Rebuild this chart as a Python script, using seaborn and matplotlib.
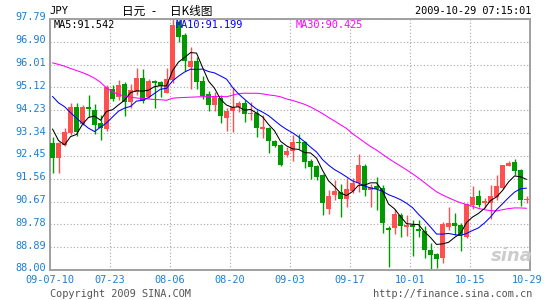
import numpy as np
import pandas as pd
import matplotlib
matplotlib.use("Agg")
import matplotlib.pyplot as plt
import matplotlib.transforms as mtransforms
import seaborn as sns

# ---------------- data ----------------
opens = [92.95, 92.36, 92.88, 93.34, 94.35, 93.68, 94.37, 94.24, 93.72, 93.49,
         95.05, 94.74, 95.26, 94.57, 94.96, 95.48, 94.76, 95.39, 95.35, 94.92,
         95.42, 97.68, 97.18, 95.93, 96.17, 95.39, 94.85, 94.42, 94.72, 93.93,
         94.22, 94.34, 94.53, 94.08, 94.14, 93.49, 93.53, 93.03, 92.88, 92.48,
         92.64, 93.00, 93.00, 92.26, 92.06, 91.71, 90.37, 90.92, 91.05, 90.77,
         91.10, 91.41, 92.06, 91.12, 91.28, 91.19, 89.62, 89.62, 90.14, 89.69,
         89.76, 89.58, 89.53, 88.78, 88.62, 88.46, 89.66, 89.85, 89.76, 89.30,
         90.54, 90.89, 90.60, 90.63, 90.84, 91.18, 92.06, 92.23, 91.90, 90.73]
highs = [93.17, 93.00, 93.54, 94.50, 94.50, 94.44, 94.83, 94.47, 94.05, 95.22,
         95.22, 95.41, 95.32, 95.25, 95.87, 95.83, 95.44, 95.41, 95.39, 95.87,
         97.79, 97.75, 97.26, 96.70, 96.30, 95.57, 95.00, 94.95, 94.83, 94.32,
         95.08, 94.60, 94.63, 94.57, 94.24, 94.05, 93.56, 93.07, 92.91, 92.80,
         93.27, 93.30, 93.05, 92.32, 92.10, 91.76, 91.12, 91.50, 91.36, 91.58,
         91.60, 92.52, 92.12, 91.37, 91.62, 91.32, 89.72, 90.38, 90.22, 90.16,
         89.95, 89.95, 89.72, 89.04, 88.66, 89.88, 90.44, 90.21, 89.82, 90.63,
         91.28, 91.12, 90.80, 91.32, 91.70, 92.10, 92.27, 92.32, 91.92, 90.89]
lows = [91.80, 91.80, 92.84, 93.27, 93.24, 93.64, 93.98, 93.30, 93.07, 93.43,
        94.58, 94.62, 94.00, 94.30, 94.83, 94.50, 94.70, 94.31, 94.76, 94.89,
        95.30, 96.90, 95.75, 95.05, 95.05, 94.66, 94.22, 94.20, 93.72, 93.41,
        93.40, 94.17, 93.79, 93.85, 93.20, 93.14, 92.55, 92.79, 92.06, 92.42,
        92.26, 92.70, 91.98, 91.56, 91.52, 90.15, 90.18, 90.73, 90.08, 90.47,
        91.00, 91.05, 90.89, 90.47, 90.33, 89.46, 88.10, 89.40, 89.30, 89.32,
        88.53, 89.30, 88.46, 88.00, 88.07, 88.26, 89.56, 89.37, 88.75, 89.24,
        90.37, 90.44, 90.41, 89.98, 90.73, 91.15, 92.06, 91.71, 90.50, 90.60]
closes = [92.37, 92.95, 93.38, 94.35, 93.40, 94.34, 94.28, 93.66, 93.53, 95.13,
          94.66, 95.22, 94.57, 95.02, 95.48, 94.60, 95.39, 95.28, 95.18, 95.45,
          97.55, 97.10, 96.15, 96.15, 95.35, 94.78, 94.42, 94.75, 93.99, 94.22,
          94.34, 94.53, 94.08, 94.14, 93.53, 93.59, 93.05, 92.84, 92.10, 92.64,
          93.00, 92.94, 92.22, 92.03, 91.63, 90.63, 90.89, 91.08, 90.77, 91.15,
          91.41, 92.10, 91.12, 91.22, 91.15, 89.82, 89.56, 90.18, 89.72, 89.76,
          89.69, 89.51, 88.78, 88.59, 88.42, 89.79, 89.82, 89.72, 89.37, 90.57,
          90.84, 90.54, 90.70, 90.89, 91.28, 92.10, 92.19, 91.88, 90.73, 90.78]

# moving-average values before enough bars are on screen
ma5_head = [93.50, 93.05, 92.88, 93.20]
ma10_head = [94.77, 94.52, 94.37, 94.14, 93.92, 93.72, 93.53, 93.40, 93.57]
ma30_head = [96.08, 96.02, 95.95, 95.86, 95.78, 95.70, 95.60, 95.48, 95.32, 95.10,
             94.95, 94.85, 94.78, 94.74, 94.71, 94.69, 94.67, 94.65, 94.64, 94.62,
             94.70, 94.72, 94.73, 94.74, 94.75, 94.76, 94.76, 94.77, 94.77]

date_labels = ['09-07-10', '07-23', '08-06', '08-20', '09-03',
               '09-17', '10-01', '10-15', '10-29']
y_ticks = [97.79, 96.90, 96.01, 95.12, 94.23, 93.34, 92.45, 91.56,
           90.67, 89.78, 88.89, 88.00]

# ---------------- build frame ----------------
n = len(closes)
df = pd.DataFrame({'idx': np.arange(n), 'open': opens, 'high': highs,
                   'low': lows, 'close': closes})
c = df['close']
ma5 = c.rolling(5).mean().to_numpy()
ma10 = c.rolling(10).mean().to_numpy()
ma30 = c.rolling(30).mean().to_numpy()
ma5[:len(ma5_head)] = ma5_head
ma10[:len(ma10_head)] = ma10_head
ma30[:len(ma30_head)] = ma30_head
df['ma5'], df['ma10'], df['ma30'] = ma5, ma10, ma30

# ---------------- style ----------------
sns.set_theme(style="white")
plt.rcParams['font.family'] = ['DejaVu Sans Mono', 'Noto Sans CJK SC']

W, H = 545, 300
fig = plt.figure(figsize=(W / 100, H / 100), dpi=100)
fig.patch.set_facecolor('white')
L, R, T, B = 50, 530, 19, 270
ax = fig.add_axes([L / W, 1 - B / H, (R - L) / W, (B - T) / H])
ax.set_facecolor('white')

UP = '#ff5050'
DOWN = '#009900'
colors = [UP if cl >= op else DOWN for op, cl in zip(opens, closes)]

# wicks
ax.vlines(df['idx'], df['low'], df['high'], colors=colors, linewidth=1.0, zorder=2)
# bodies
body_bottom = np.minimum(df['open'], df['close'])
body_h = np.maximum(np.abs(df['close'] - df['open']), 0.05)
ax.bar(df['idx'], body_h, bottom=body_bottom, width=0.78, color=colors,
       linewidth=0, zorder=3)

# moving averages via seaborn
sns.lineplot(data=df, x='idx', y='ma30', color='#ff00ff', linewidth=0.75, ax=ax, zorder=4)
sns.lineplot(data=df, x='idx', y='ma10', color='#0000ff', linewidth=0.75, ax=ax, zorder=5)
sns.lineplot(data=df, x='idx', y='ma5', color='#000000', linewidth=0.75, ax=ax, zorder=6)

ax.set_xlim(-0.42, n - 0.42)
ax.set_ylim(88.00, 97.79)
xt = [-0.42 + 10 * k for k in range(len(date_labels))]
ax.set_xticks(xt)
ax.set_xticklabels(date_labels)
ax.set_yticks(y_ticks)
ax.set_yticklabels([f'{v:.2f}' for v in y_ticks])
ax.set_xlabel('')
ax.set_ylabel('')

ax.tick_params(axis='both', length=0, labelsize=7.4, colors='#1a7fd4')
ax.tick_params(axis='y', pad=3.0)
ax.tick_params(axis='x', pad=3.5)
offset = mtransforms.ScaledTranslation(0, 2.5 / 100, fig.dpi_scale_trans)
for lbl in ax.get_yticklabels():
    lbl.set_transform(lbl.get_transform() + offset)
xoff = mtransforms.ScaledTranslation(-3 / 100, 0, fig.dpi_scale_trans)
ax.get_xticklabels()[-1].set_transform(ax.get_xticklabels()[-1].get_transform() + xoff)

ax.grid(True, color='#a8a8a8', linestyle=(0, (1, 2)), linewidth=0.8)
ax.set_axisbelow(True)
for s in ax.spines.values():
    s.set_color('#a0a0a0')
    s.set_linewidth(1.4)

# texts inside plot
ax.text(54 / W, 1 - 24.5 / H, 'MA5:91.542', transform=fig.transFigure,
        fontsize=7.4, color='black', va='center', ha='left', zorder=10)
ax.text(176 / W, 1 - 24.5 / H, 'MA10:91.199', transform=fig.transFigure,
        fontsize=7.4, color='#0000ff', va='center', ha='left', zorder=10)
ax.text(296 / W, 1 - 24.5 / H, 'MA30:90.425', transform=fig.transFigure,
        fontsize=7.4, color='#ff00ff', va='center', ha='left', zorder=10)

# header
cjk = ['Noto Sans CJK SC', 'DejaVu Sans']
fig.text(49 / W, 1 - 11.5 / H, 'JPY', fontsize=7.6, color='black', va='center', ha='left')
fig.text(122 / W, 1 - 11.5 / H, '日元', fontsize=8.4, color='black',
         va='center', ha='left', family=cjk)
fig.text(153 / W, 1 - 11.5 / H, '-', fontsize=8.4, color='black',
         va='center', ha='center', family=cjk)
fig.text(170 / W, 1 - 11.5 / H, '日K线图', fontsize=8.4, color='black',
         va='center', ha='left', family=cjk)
fig.text(531 / W, 1 - 11.5 / H, '2009-10-29 07:15:01', fontsize=7.4, color='black',
         va='center', ha='right')

# footer
fig.text(50 / W, 1 - 294 / H, 'Copyright 2009 SINA.COM', fontsize=7.4,
         color='#555555', va='center', ha='left')
fig.text(532 / W, 1 - 294 / H, 'http://finance.sina.com.cn', fontsize=7.4,
         color='#555555', va='center', ha='right')

# watermark
fig.text(512 / W, 1 - 256 / H, 'sina', fontsize=13, color='#cccccc',
         style='italic', weight='bold', va='center', ha='center',
         family=['DejaVu Sans'], zorder=1)

fig.savefig('out.png', dpi=100, facecolor='white')
